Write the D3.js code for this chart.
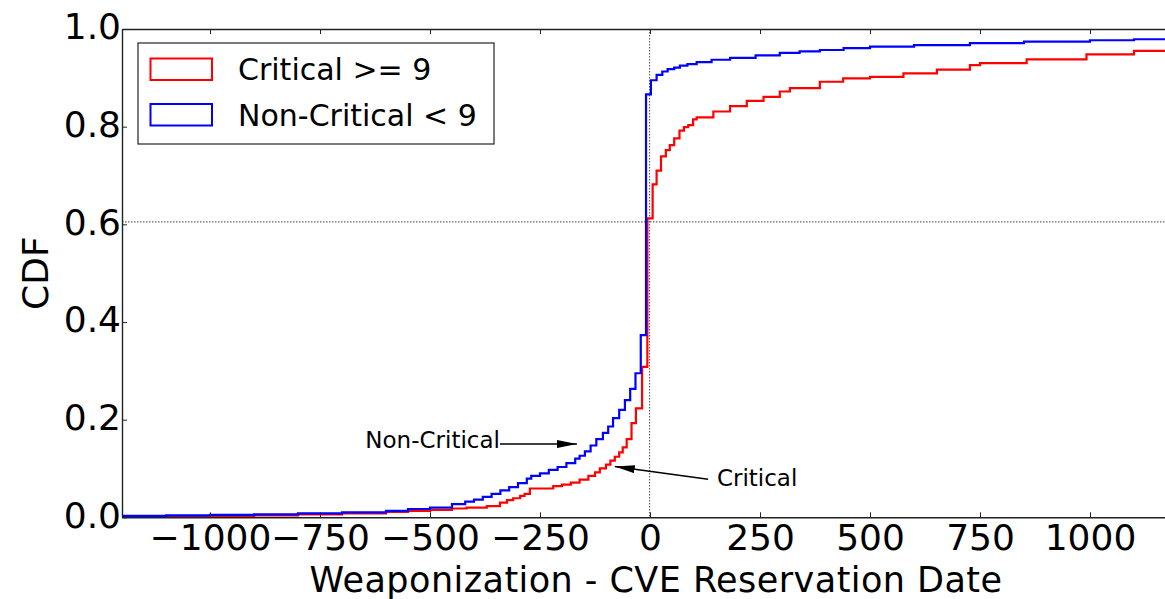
<!DOCTYPE html>
<html>
<head>
<meta charset="utf-8">
<script src="https://cdn.jsdelivr.net/npm/d3@7"></script>
<style>
  html, body { margin: 0; padding: 0; background: #fff; }
  svg { display: block; font-family: "DejaVu Sans", sans-serif; }
</style>
</head>
<body>
<svg id="chart" width="1165" height="599"></svg>
<script>
// ---------- data ----------
const seriesNames = ["Critical >= 9", "Non-Critical < 9"];
const seriesColors = ["#ff0000", "#0000ff"];

// Critical (score >= 9): days, CDF
const criticalDays = [-1200, -1100, -1000, -900, -800, -700, -600, -550, -500, -450, -417, -371, -341, -325, -311, -295, -285,
  -273, -220, -200, -180, -160, -140, -125, -114, -100, -90, -80, -70, -62, -53, -42, -32, -18, -6,
  6, 15, 25, 36, 45, 55, 67, 77, 87, 98, 106, 144, 182, 220, 258, 295, 318, 386, 439, 500, 576, 652, 727, 750, 856, 992, 1100, 1200];
const criticalCdf = [0.001, 0.002, 0.003, 0.004, 0.006, 0.008, 0.011, 0.013, 0.015, 0.018, 0.020, 0.023, 0.030, 0.035, 0.039, 0.044, 0.048,
  0.059, 0.064, 0.067, 0.071, 0.077, 0.085, 0.092, 0.100, 0.108, 0.116, 0.124, 0.133, 0.143, 0.160, 0.193, 0.223, 0.308, 0.612,
  0.682, 0.710, 0.739, 0.752, 0.762, 0.776, 0.792, 0.799, 0.803, 0.815, 0.819, 0.831, 0.842, 0.853, 0.861, 0.872, 0.879, 0.892, 0.899, 0.902, 0.909, 0.917, 0.926, 0.930, 0.938, 0.948, 0.955, 0.962];

// Non-Critical (score < 9): days, CDF
const nonCriticalDays = [-1200, -1100, -1000, -900, -800, -700, -600, -550, -500, -450, -420, -400, -380, -360, -340, -320, -300, -280,
  -270, -250, -230, -210, -190, -170, -160, -148, -135, -122, -107, -95, -84, -70, -57, -45, -33, -21, -9,
  2, 15, 28, 40, 55, 68, 85, 106, 140, 182, 240, 295, 340, 386, 440, 500, 600, 727, 850, 1000, 1100, 1200];
const nonCriticalCdf = [0.003, 0.004, 0.005, 0.006, 0.008, 0.010, 0.013, 0.017, 0.020, 0.027, 0.032, 0.036, 0.042, 0.048, 0.055, 0.062, 0.070, 0.079,
  0.085, 0.090, 0.097, 0.103, 0.111, 0.120, 0.126, 0.135, 0.147, 0.160, 0.173, 0.186, 0.203, 0.220, 0.240, 0.263, 0.295, 0.373, 0.866,
  0.895, 0.906, 0.913, 0.918, 0.921, 0.925, 0.928, 0.932, 0.937, 0.941, 0.946, 0.951, 0.954, 0.957, 0.961, 0.964, 0.967, 0.971, 0.974, 0.977, 0.979, 0.980];

const xTicks = [-1000, -750, -500, -250, 0, 250, 500, 750, 1000];
const yTicks = [0.0, 0.2, 0.4, 0.6, 0.8, 1.0];
const xDomain = [-1200, 1200];
const yDomain = [0, 1];
const refX = [-1];      // vertical dotted reference
const refY = [0.605];   // horizontal dotted reference

const annotLabels = ["Non-Critical", "Critical"];
const annotAnchor = ["end", "start"];
const annotText = [[-341, 0.142], [152, 0.065]];
const annotTail = [[-341, 0.150], [132, 0.078]];
const annotTip  = [[-166, 0.150], [-80, 0.104]];

const xLabel = "Weaponization - CVE Reservation Date";
const yLabel = "CDF";

// ---------- layout ----------
const plotL = 122, plotR = 1178, plotT = 29, plotB = 517.3;
const tickFont = 36, labelFont = 35, legendFont = 30, annotFont = 23;

const svg = d3.select("#chart");
const x = d3.scaleLinear().domain(xDomain).range([plotL, plotR]);
const y = d3.scaleLinear().domain(yDomain).range([plotB, plotT]);

svg.append("defs").append("clipPath").attr("id", "clip")
  .append("rect").attr("x", plotL).attr("y", plotT).attr("width", plotR - plotL).attr("height", plotB - plotT);

svg.select("defs").append("marker")
  .attr("id", "arrowhead")
  .attr("markerUnits", "userSpaceOnUse")
  .attr("viewBox", "0 0 20 8")
  .attr("refX", 20).attr("refY", 4)
  .attr("markerWidth", 20).attr("markerHeight", 8)
  .attr("orient", "auto")
  .append("path").attr("d", "M0,0 L20,4 L0,8 Z").attr("fill", "#000");

// reference dotted lines
const plot = svg.append("g").attr("clip-path", "url(#clip)");
plot.selectAll("line.refx").data(refX).join("line")
  .attr("x1", d => x(d)).attr("x2", d => x(d))
  .attr("y1", plotT).attr("y2", plotB)
  .attr("stroke", "#666").attr("stroke-width", 1.2).attr("stroke-dasharray", "1.5,1.5");
plot.selectAll("line.refy").data(refY).join("line")
  .attr("x1", plotL).attr("x2", plotR)
  .attr("y1", d => y(d)).attr("y2", d => y(d))
  .attr("stroke", "#666").attr("stroke-width", 1.2).attr("stroke-dasharray", "1.5,1.5");

// series
const series = [
  d3.zip(criticalDays, criticalCdf),
  d3.zip(nonCriticalDays, nonCriticalCdf)
];
const line = d3.line().x(d => x(d[0])).y(d => y(d[1])).curve(d3.curveStepAfter);
plot.selectAll("path.series").data(series).join("path")
  .attr("class", "series")
  .attr("d", line)
  .attr("fill", "none")
  .attr("stroke", (d, i) => seriesColors[i])
  .attr("stroke-width", 2.2);

// axes
const xAxis = d3.axisBottom(x).tickValues(xTicks).tickSizeInner(-5).tickSizeOuter(0).tickPadding(7).tickFormat(d3.format("d"));
const gx = svg.append("g").attr("transform", `translate(0,${plotB})`).call(xAxis);
gx.selectAll("text").attr("font-size", tickFont).attr("font-family", "DejaVu Sans").attr("fill", "#000");

const xTop = d3.axisTop(x).tickValues(xTicks).tickSizeInner(-5).tickSizeOuter(0).tickFormat("");
svg.append("g").attr("transform", `translate(0,${plotT})`).call(xTop);

const yAxis = d3.axisLeft(y).tickValues(yTicks).tickSizeInner(-5).tickSizeOuter(0).tickPadding(1).tickFormat(d3.format(".1f"));
const gy = svg.append("g").attr("transform", `translate(${plotL},0)`).call(yAxis);
gy.selectAll("text").attr("font-size", tickFont).attr("font-family", "DejaVu Sans").attr("fill", "#000").attr("dy", "0.27em");

svg.selectAll(".domain").attr("stroke", "#222").attr("stroke-width", 1.4);
svg.selectAll(".tick line").attr("stroke", "#222").attr("stroke-width", 1);

// axis labels
svg.append("text")
  .attr("x", 656).attr("y", 591.5)
  .attr("text-anchor", "middle").attr("font-size", labelFont).attr("letter-spacing", "0.45px").attr("fill", "#000")
  .text(xLabel);
svg.append("text")
  .attr("transform", `translate(48,${(plotT + plotB) / 2}) rotate(-90)`)
  .attr("text-anchor", "middle").attr("font-size", 36).attr("fill", "#000")
  .text(yLabel);

// annotations
const ann = svg.append("g");
ann.selectAll("line").data(annotLabels).join("line")
  .attr("x1", (d, i) => x(annotTail[i][0])).attr("y1", (d, i) => y(annotTail[i][1]))
  .attr("x2", (d, i) => x(annotTip[i][0])).attr("y2", (d, i) => y(annotTip[i][1]))
  .attr("stroke", "#000").attr("stroke-width", 1.5)
  .attr("marker-end", "url(#arrowhead)");
ann.selectAll("text").data(annotLabels).join("text")
  .attr("x", (d, i) => x(annotText[i][0])).attr("y", (d, i) => y(annotText[i][1]))
  .attr("text-anchor", (d, i) => annotAnchor[i])
  .attr("font-size", annotFont).attr("fill", "#000")
  .text(d => d);

// legend
const leg = svg.append("g");
leg.append("rect").attr("x", 138).attr("y", 43).attr("width", 356).attr("height", 101)
  .attr("fill", "#fff").attr("stroke", "#222").attr("stroke-width", 1.2);
const items = leg.selectAll("g.item").data(seriesNames).join("g")
  .attr("transform", (d, i) => `translate(0,${i * 45.5})`);
items.append("rect").attr("x", 150.5).attr("y", 58.5).attr("width", 61.5).attr("height", 21.5)
  .attr("fill", "none").attr("stroke", (d, i) => seriesColors[i]).attr("stroke-width", 2);
items.append("text").attr("x", 238).attr("y", 80)
  .attr("font-size", legendFont).attr("fill", "#000").text(d => d);
</script>
</body>
</html>
